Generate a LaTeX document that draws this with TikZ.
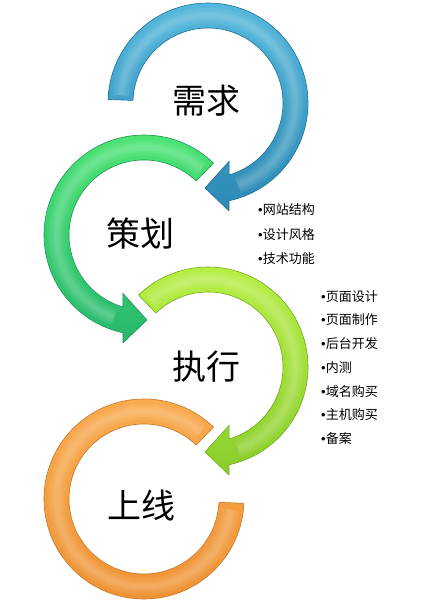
\documentclass[tikz,border=0pt]{standalone}
\usepackage{fontspec}
\newfontfamily\cjk{Noto Sans CJK SC}
\newfontfamily\latinf{Liberation Sans}
\newcommand{\bul}{{\latinf\char"2022}}
\definecolor{bTop}{RGB}{84,184,220}
\definecolor{bBot}{RGB}{44,138,180}
\definecolor{bRim}{RGB}{30,110,150}
\definecolor{gTop}{RGB}{76,230,116}
\definecolor{gBot}{RGB}{40,184,110}
\definecolor{gRim}{RGB}{30,150,85}
\definecolor{yTop}{RGB}{186,240,70}
\definecolor{yBot}{RGB}{138,206,44}
\definecolor{yRim}{RGB}{110,170,30}
\definecolor{oTop}{RGB}{250,172,80}
\definecolor{oBot}{RGB}{238,146,52}
\definecolor{oRim}{RGB}{200,115,35}
\begin{document}
\begin{tikzpicture}[x=1pt,y=1pt,
  lbl/.style={font=\cjk\fontsize{34}{34}\selectfont, inner sep=0pt, text=black},
  item/.style={font=\cjk\fontsize{13}{13}\selectfont, anchor=west, inner sep=0pt, text=black},
  band/.style={line width=0.6pt, line join=round},
  shine/.style={line width=#1, white, opacity=0.08}]
\useasboundingbox (0,0) rectangle (423,603);
\fill[white] (0,0) rectangle (423,603);
\coordinate (cB) at (208,500);
\coordinate (cG) at (144,368);
\coordinate (cY) at (208,236);
\coordinate (cO) at (144,104);
% orange (plain arc)
\begin{scope}[shift={(cO)}]
\path[band, draw=oRim, top color=oTop, bottom color=oBot]
  (46:100) arc[start angle=46, end angle=357.5, radius=100]
  -- (357.5:75) arc[start angle=357.5, end angle=46, radius=75] -- cycle;
\foreach \w in {16,10,5}{\draw[shine=\w pt] (50:87.5) arc[start angle=50, end angle=353, radius=87.5];}
\end{scope}
% yellow-green arrow (clockwise)
\begin{scope}[shift={(cY)}]
\path[band, draw=yRim, top color=yTop, bottom color=yBot]
  (134:100) arc[start angle=134, end angle=-77.9, radius=100]
  -- (-79:110) -- (-92:85) -- (-70:62) -- (-73.7:75)
  arc[start angle=-73.7, end angle=134, radius=75] -- cycle;
\foreach \w in {16,10,5}{\draw[shine=\w pt] (131:87.5) arc[start angle=131, end angle=-70, radius=87.5];}
\end{scope}
% green arrow (counter-clockwise)
\begin{scope}[shift={(cG)}]
\path[band, draw=gRim, top color=gTop, bottom color=gBot]
  (46:100) arc[start angle=46, end angle=257.9, radius=100]
  -- (259:110) -- (272:85) -- (250:62) -- (253.7:75)
  arc[start angle=253.7, end angle=46, radius=75] -- cycle;
\foreach \w in {16,10,5}{\draw[shine=\w pt] (49:87.5) arc[start angle=49, end angle=250, radius=87.5];}
\end{scope}
% blue arrow (clockwise)
\begin{scope}[shift={(cB)}]
\path[band, draw=bRim, top color=bTop, bottom color=bBot]
  (178:100) arc[start angle=178, end angle=-77.9, radius=100]
  -- (-79:110) -- (-92:85) -- (-70:62) -- (-73.7:75)
  arc[start angle=-73.7, end angle=178, radius=75] -- cycle;
\foreach \w in {16,10,5}{\draw[shine=\w pt] (175:87.5) arc[start angle=175, end angle=-70, radius=87.5];}
\end{scope}
% labels
\node[lbl] (t1) at (206,502) {需求};
\node[lbl] (t2) at (140,369) {策划};
\node[lbl] (t3) at (206,236) {执行};
\node[lbl] (t4) at (141,98) {上线};
% lists
\node[item] (a1) at (258,393) {\bul 网站结构};
\node[item] (a2) at (258,368) {\bul 设计风格};
\node[item] (a3) at (258,344) {\bul 技术功能};
\node[item] (b1) at (321,306) {\bul 页面设计};
\node[item] (b2) at (321,283) {\bul 页面制作};
\node[item] (b3) at (321,259) {\bul 后台开发};
\node[item] (b4) at (321,235) {\bul 内测};
\node[item] (b5) at (321,211) {\bul 域名购买};
\node[item] (b6) at (321,188) {\bul 主机购买};
\node[item] (b7) at (321,164) {\bul 备案};
\end{tikzpicture}
\end{document}
